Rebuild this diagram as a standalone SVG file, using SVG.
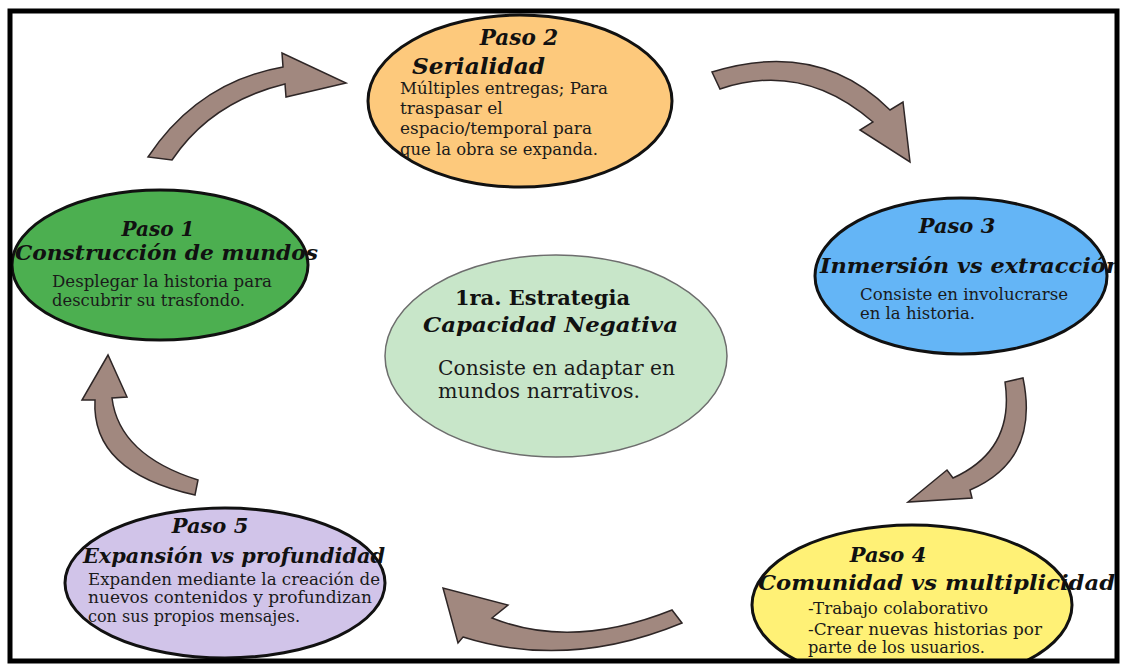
<svg xmlns="http://www.w3.org/2000/svg" width="1124" height="666" viewBox="0 0 1124 666">
<style>
.t{font-family:"DejaVu Serif","Liberation Serif",serif;font-weight:bold;font-style:italic;fill:#111}
.h{font-family:"DejaVu Serif","Liberation Serif",serif;font-weight:bold;fill:#111}
.b{font-family:"DejaVu Serif","Liberation Serif",serif;fill:#1a1a1a}
.arrow{fill:#A1887F;stroke:#2e2626;stroke-width:1.5;stroke-linejoin:miter}
.node{stroke:#111;stroke-width:3}
</style>
<defs>
<clipPath id="frame"><rect x="10" y="11" width="1107" height="650"/></clipPath>
</defs>
<rect x="0" y="0" width="1124" height="666" fill="#fff"/>
<g clip-path="url(#frame)">
<g id="connectors">
<path class="arrow" d="M148,157 Q198,82 283,67 L282,53 L346,83 L286,97 L285,84 Q211,102 172,160 Z"/>
<path class="arrow" d="M712,72 Q819,39 890,110 L903,102 L910,162 L860,130 L873,122 Q803,61 720,89 Z"/>
<path class="arrow" d="M1023,378 Q1040,460 970,490 L972,498 L908,502 L947,470 L953,478 Q1015,450 1005,382 Z"/>
<path class="arrow" d="M682,623 Q568,670 463,637 L458,643 L443,588 L508,605 L492,618 Q572,650 672,610 Z"/>
<path class="arrow" d="M195,495 Q91,472 95,400 L82,400 L108,355 L127,397 L112,398 Q119,455 198,480 Z"/>
</g>
<g id="paso2">
<ellipse class="node" cx="520" cy="101" rx="152" ry="86" fill="#FDC97C"/>
<text class="t" x="519" y="45" font-size="21.5" text-anchor="middle">Paso 2</text>
<text class="t" x="412" y="74" font-size="22" textLength="133" lengthAdjust="spacingAndGlyphs">Serialidad</text>
<text class="b" x="400" y="94" font-size="17" textLength="208" lengthAdjust="spacingAndGlyphs">Múltiples entregas; Para</text>
<text class="b" x="400" y="114" font-size="17">traspasar el</text>
<text class="b" x="400" y="134" font-size="17" textLength="192" lengthAdjust="spacingAndGlyphs">espacio/temporal para</text>
<text class="b" x="400" y="155" font-size="17" textLength="198" lengthAdjust="spacingAndGlyphs">que la obra se expanda.</text>
</g>
<g id="paso1">
<ellipse class="node" cx="160" cy="265" rx="148" ry="75" fill="#4CAF50"/>
<text class="t" x="158" y="236" font-size="20" text-anchor="middle">Paso 1</text>
<text class="t" x="15" y="260" font-size="20.5" textLength="303" lengthAdjust="spacingAndGlyphs">Construcción de mundos</text>
<text class="b" x="52" y="287" font-size="16.5" textLength="220" lengthAdjust="spacingAndGlyphs">Desplegar la historia para</text>
<text class="b" x="52" y="306" font-size="16.5" textLength="193" lengthAdjust="spacingAndGlyphs">descubrir su trasfondo.</text>
</g>
<g id="paso3">
<ellipse class="node" cx="961" cy="276" rx="146" ry="78" fill="#64B5F6"/>
<text class="t" x="957" y="233" font-size="21" text-anchor="middle">Paso 3</text>
<text class="t" x="820" y="273" font-size="21" textLength="302" lengthAdjust="spacingAndGlyphs">Inmersión vs extracción</text>
<text class="b" x="860" y="300" font-size="16.5" textLength="208" lengthAdjust="spacingAndGlyphs">Consiste en involucrarse</text>
<text class="b" x="860" y="319" font-size="16.5" textLength="115" lengthAdjust="spacingAndGlyphs">en la historia.</text>
</g>
<g id="estrategia">
<ellipse cx="556" cy="356" rx="171" ry="101" fill="#C8E6C9" stroke="#6d6d6d" stroke-width="1.5"/>
<text class="h" x="455" y="305" font-size="20" textLength="175" lengthAdjust="spacingAndGlyphs">1ra. Estrategia</text>
<text class="t" x="423" y="332" font-size="21" textLength="255" lengthAdjust="spacingAndGlyphs">Capacidad Negativa</text>
<text class="b" x="438" y="375" font-size="20" textLength="237" lengthAdjust="spacingAndGlyphs">Consiste en adaptar en</text>
<text class="b" x="438" y="398" font-size="20" textLength="202" lengthAdjust="spacingAndGlyphs">mundos narrativos.</text>
</g>
<g id="paso5">
<ellipse class="node" cx="225" cy="583" rx="160" ry="75" fill="#D1C4E9"/>
<text class="t" x="210" y="533" font-size="21" text-anchor="middle">Paso 5</text>
<text class="t" x="83" y="563" font-size="21" textLength="302" lengthAdjust="spacingAndGlyphs">Expansión vs profundidad</text>
<text class="b" x="88" y="585" font-size="16" textLength="292" lengthAdjust="spacingAndGlyphs">Expanden mediante la creación de</text>
<text class="b" x="88" y="603" font-size="16" textLength="284" lengthAdjust="spacingAndGlyphs">nuevos contenidos y profundizan</text>
<text class="b" x="88" y="622" font-size="16" textLength="212" lengthAdjust="spacingAndGlyphs">con sus propios mensajes.</text>
</g>
<g id="paso4">
<ellipse class="node" cx="912" cy="605" rx="160" ry="80" fill="#FFF176"/>
<text class="t" x="888" y="562" font-size="21" text-anchor="middle">Paso 4</text>
<text class="t" x="758" y="590" font-size="21" textLength="357" lengthAdjust="spacingAndGlyphs">Comunidad vs multiplicidad</text>
<text class="b" x="808" y="614" font-size="16.2" textLength="180" lengthAdjust="spacingAndGlyphs">-Trabajo colaborativo</text>
<text class="b" x="808" y="635" font-size="16.2" textLength="234" lengthAdjust="spacingAndGlyphs">-Crear nuevas historias por</text>
<text class="b" x="808" y="653" font-size="16.2" textLength="177" lengthAdjust="spacingAndGlyphs">parte de los usuarios.</text>
</g>
</g>
<rect x="10" y="11" width="1107" height="650" fill="none" stroke="#000" stroke-width="5"/>
</svg>
